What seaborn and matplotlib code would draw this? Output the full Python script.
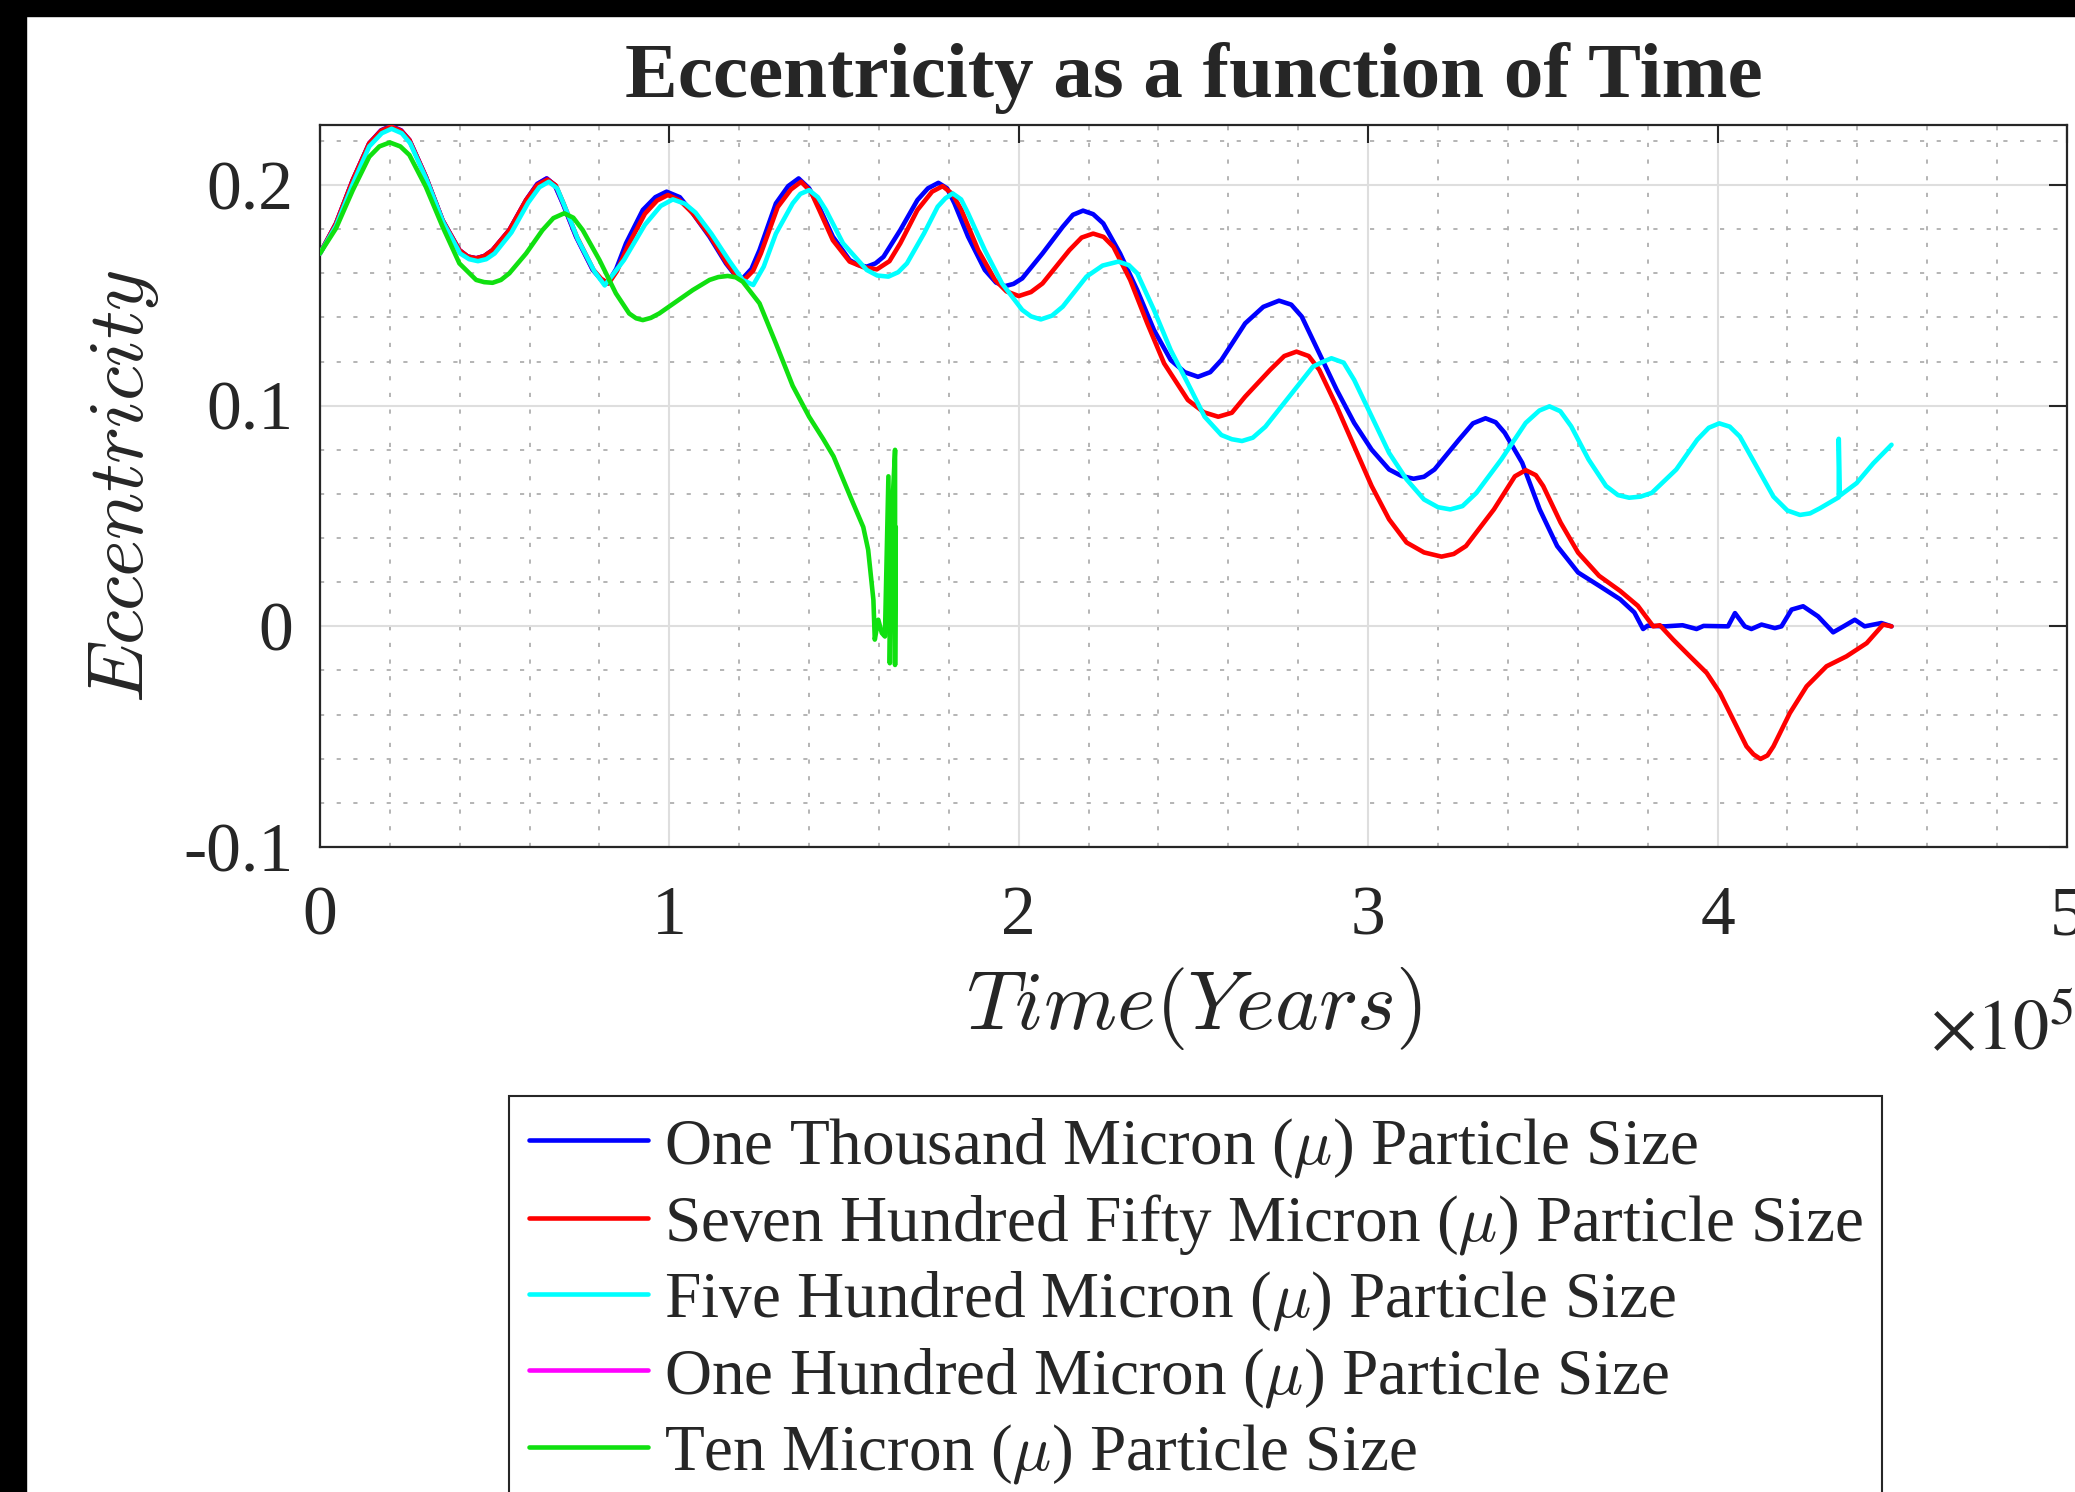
import numpy as np
import pandas as pd
import matplotlib
matplotlib.use("Agg")
import matplotlib.pyplot as plt
import seaborn as sns
from matplotlib.ticker import MultipleLocator, FuncFormatter
from matplotlib.patches import Rectangle

# Time in units of 1e5 years, eccentricity

# One Thousand Micron
t_1000 = [0, 0.046, 0.094, 0.141, 0.175, 0.203, 0.232, 0.256, 0.303, 0.351, 0.399, 0.423, 0.447, 0.470, 0.494,
          0.542, 0.590, 0.622, 0.649, 0.672, 0.695, 0.733, 0.781, 0.803, 0.823, 0.848, 0.876, 0.924, 0.96, 0.992,
          1.03, 1.067, 1.115, 1.162, 1.185, 1.21, 1.235, 1.258, 1.305, 1.34, 1.370, 1.40, 1.429, 1.468, 1.516,
          1.54, 1.565, 1.59, 1.613, 1.661, 1.71, 1.74, 1.77, 1.795, 1.816, 1.855, 1.903, 1.935, 1.961, 1.985,
          2.01, 2.068, 2.126, 2.155, 2.184, 2.213, 2.242, 2.29, 2.339, 2.387, 2.435, 2.475, 2.513, 2.548, 2.58,
          2.648, 2.70, 2.745, 2.78, 2.81, 2.86, 2.91, 2.96, 3.01, 3.06, 3.095, 3.13, 3.16, 3.19, 3.26, 3.30,
          3.336, 3.365, 3.391, 3.441, 3.491, 3.541, 3.601, 3.661, 3.721, 3.762, 3.787, 3.80, 3.85, 3.90, 3.94,
          3.96, 4.03, 4.05, 4.078, 4.097, 4.126, 4.164, 4.183, 4.212, 4.245, 4.288, 4.331, 4.364, 4.393, 4.421,
          4.469, 4.498]
e_1000 = [0.169, 0.1826, 0.2023, 0.2189, 0.2248, 0.2267, 0.2248, 0.2204, 0.2038, 0.184, 0.1705, 0.1676, 0.1668, 0.1678, 0.1705,
          0.1796, 0.1932, 0.2005, 0.203, 0.2, 0.1917, 0.1766, 0.1615, 0.1575, 0.1554, 0.162, 0.1736, 0.1887, 0.1945, 0.197,
          0.1945, 0.1872, 0.1766, 0.1645, 0.1598, 0.1577, 0.162, 0.1705, 0.1917, 0.1995, 0.203, 0.1985, 0.190, 0.1766, 0.166,
          0.1638, 0.163, 0.1645, 0.1675, 0.1796, 0.1932, 0.1985, 0.201, 0.1985, 0.1917, 0.1766, 0.1615, 0.1558, 0.1542, 0.1552,
          0.1577, 0.169, 0.1811, 0.1865, 0.1884, 0.1868, 0.1826, 0.169, 0.1524, 0.1343, 0.1207, 0.1152, 0.1131, 0.1152, 0.1207,
          0.1373, 0.1448, 0.1476, 0.1458, 0.1404, 0.1238, 0.1072, 0.0922, 0.0801, 0.0711, 0.0682, 0.0669, 0.0678, 0.0711, 0.0846, 0.092,
          0.0943, 0.0925, 0.0877, 0.0741, 0.053, 0.0364, 0.0244, 0.0184, 0.0123, 0.0063, -0.0012, 0.0003, 0.0, 0.0005, -0.0012,
          0.0002, 0.0, 0.006, 0.0, -0.0012, 0.0008, -0.0008, 0.0, 0.0076, 0.0091, 0.0045, -0.0027, 0.0003, 0.003, 0.0,
          0.0015, 0.0]

# Seven Hundred Fifty Micron
t_750 = [0, 0.046, 0.094, 0.141, 0.175, 0.203, 0.232, 0.256, 0.303, 0.351, 0.399, 0.423, 0.447, 0.470, 0.494,
         0.542, 0.590, 0.622, 0.651, 0.675, 0.697, 0.735, 0.783, 0.805, 0.826, 0.85, 0.880, 0.930, 0.965, 0.996,
         1.03, 1.067, 1.118, 1.165, 1.19, 1.215, 1.24, 1.262, 1.310, 1.348, 1.377, 1.405, 1.429, 1.468, 1.516,
         1.555, 1.594, 1.63, 1.661, 1.71, 1.752, 1.782, 1.81, 1.836, 1.884, 1.932, 1.965, 2.0, 2.035, 2.068,
         2.145, 2.18, 2.213, 2.243, 2.271, 2.319, 2.368, 2.416, 2.484, 2.53, 2.571, 2.61, 2.648, 2.72, 2.76,
         2.795, 2.83, 2.86, 2.91, 2.96, 3.01, 3.06, 3.11, 3.16, 3.21, 3.245, 3.28, 3.36, 3.42, 3.451, 3.48,
         3.501, 3.551, 3.601, 3.661, 3.721, 3.772, 3.816, 3.835, 3.873, 3.921, 3.969, 4.007, 4.045, 4.083,
         4.103, 4.123, 4.143, 4.16, 4.207, 4.255, 4.312, 4.369, 4.427, 4.474, 4.498]
e_750 = [0.169, 0.1826, 0.2023, 0.2189, 0.2246, 0.2265, 0.2246, 0.2204, 0.2038, 0.184, 0.1705, 0.1676, 0.1668, 0.1678, 0.1705,
         0.1796, 0.1932, 0.2, 0.2025, 0.1998, 0.1917, 0.1766, 0.1615, 0.1575, 0.1554, 0.161, 0.172, 0.187, 0.193, 0.1955,
         0.193, 0.1872, 0.1766, 0.1645, 0.1592, 0.1572, 0.1612, 0.169, 0.190, 0.198, 0.2015, 0.197, 0.1887, 0.175, 0.1653,
         0.1628, 0.1618, 0.1655, 0.1736, 0.1887, 0.197, 0.1995, 0.196, 0.1887, 0.1705, 0.157, 0.1518, 0.1497, 0.1515, 0.1554,
         0.1705, 0.1762, 0.178, 0.1765, 0.172, 0.157, 0.1373, 0.1192, 0.1026, 0.097, 0.095, 0.0968, 0.1041, 0.1163, 0.1225,
         0.1245, 0.1225, 0.1163, 0.0997, 0.0816, 0.0636, 0.0485, 0.038, 0.0335, 0.0316, 0.0328, 0.0364, 0.053, 0.068, 0.0708, 0.0685,
         0.0636, 0.047, 0.0334, 0.0229, 0.0161, 0.0093, 0.0, 0.0005, -0.006, -0.0136, -0.0211, -0.0302, -0.0423, -0.0544,
         -0.058, -0.0601, -0.0585, -0.0544, -0.0393, -0.0272, -0.0181, -0.0136, -0.0076, 0.0008, 0.0]

# Five Hundred Micron
t_500 = [0, 0.046, 0.094, 0.141, 0.177, 0.205, 0.234, 0.258, 0.305, 0.353, 0.401, 0.427, 0.452, 0.476, 0.50,
         0.548, 0.596, 0.628, 0.655, 0.679, 0.700, 0.738, 0.785, 0.815, 0.870, 0.930, 0.975, 1.01, 1.045, 1.075,
         1.12, 1.17, 1.21, 1.24, 1.27, 1.305, 1.353, 1.375, 1.40, 1.425, 1.448, 1.497, 1.565, 1.595, 1.627,
         1.655, 1.68, 1.729, 1.768, 1.79, 1.811, 1.835, 1.855, 1.903, 1.952, 2.01, 2.035, 2.063, 2.095, 2.126,
         2.194, 2.24, 2.285, 2.315, 2.339, 2.387, 2.435, 2.484, 2.532, 2.58, 2.61, 2.639, 2.67, 2.706, 2.774,
         2.842, 2.865, 2.895, 2.93, 2.96, 3.01, 3.06, 3.11, 3.16, 3.20, 3.235, 3.27, 3.31, 3.381, 3.451, 3.49,
         3.519, 3.55, 3.581, 3.631, 3.681, 3.715, 3.747, 3.78, 3.812, 3.882, 3.942, 3.975, 4.005, 4.035, 4.064,
         4.112, 4.16, 4.20, 4.236, 4.265, 4.293, 4.347, 4.347, 4.350, 4.398, 4.446, 4.498]
e_500 = [0.169, 0.1815, 0.2005, 0.2175, 0.2235, 0.2255, 0.2235, 0.219, 0.2025, 0.183, 0.169, 0.1664, 0.1655, 0.1664, 0.169,
         0.1785, 0.192, 0.199, 0.2015, 0.1985, 0.1905, 0.1755, 0.161, 0.1545, 0.166, 0.182, 0.1905, 0.1935, 0.1915, 0.1875,
         0.178, 0.166, 0.157, 0.1547, 0.163, 0.178, 0.1917, 0.196, 0.1977, 0.1945, 0.1887, 0.1736, 0.1615, 0.159, 0.1585,
         0.1605, 0.1645, 0.1781, 0.1902, 0.194, 0.1962, 0.1935, 0.1872, 0.1705, 0.1554, 0.1434, 0.1405, 0.1391, 0.1408, 0.1449,
         0.1585, 0.1635, 0.1653, 0.1637, 0.16, 0.1434, 0.1252, 0.1101, 0.095, 0.0867, 0.0848, 0.084, 0.0855, 0.0905, 0.1041,
         0.1177, 0.1195, 0.1215, 0.1195, 0.1117, 0.0952, 0.0786, 0.0666, 0.0575, 0.054, 0.053, 0.0545, 0.0605, 0.0756, 0.0922, 0.0978,
         0.0997, 0.0975, 0.0907, 0.0756, 0.0636, 0.0595, 0.0583, 0.0588, 0.0605, 0.0711, 0.0846, 0.09, 0.092, 0.0905, 0.086,
         0.0724, 0.0588, 0.0525, 0.0505, 0.0512, 0.0535, 0.0585, 0.085, 0.0592, 0.0649, 0.0739, 0.0823]

# One Hundred Micron (hidden under the other curves)
t_100 = [0, 0.046, 0.094, 0.141, 0.175, 0.203, 0.232, 0.256, 0.303, 0.351, 0.399, 0.423, 0.447, 0.470, 0.494,
         0.542, 0.590, 0.622, 0.649, 0.672, 0.695, 0.733, 0.781]
e_100 = [0.169, 0.1826, 0.2023, 0.2189, 0.2248, 0.2267, 0.2248, 0.2204, 0.2038, 0.184, 0.1705, 0.1676, 0.1668, 0.1678, 0.1705,
         0.1796, 0.1932, 0.2005, 0.203, 0.2, 0.1917, 0.1766, 0.1615]

# Ten Micron
t_10 = [0, 0.046, 0.094, 0.141, 0.17, 0.200, 0.23, 0.256, 0.303, 0.351, 0.399, 0.447, 0.47, 0.494, 0.518,
        0.542, 0.590, 0.637, 0.668, 0.699, 0.725, 0.752, 0.80, 0.847, 0.885, 0.905, 0.924, 0.947, 0.971, 1.019,
        1.067, 1.115, 1.14, 1.167, 1.19, 1.21, 1.258, 1.305, 1.353, 1.40, 1.44, 1.47, 1.52, 1.555, 1.569,
        1.584, 1.588, 1.598, 1.608, 1.617, 1.627, 1.631, 1.640, 1.646, 1.646, 1.648]
e_10 = [0.169, 0.1804, 0.1977, 0.2128, 0.2175, 0.2193, 0.2175, 0.2136, 0.1992, 0.1811, 0.1645, 0.157, 0.156, 0.1557, 0.157,
        0.16, 0.169, 0.1796, 0.185, 0.1872, 0.1852, 0.1796, 0.166, 0.1509, 0.1418, 0.1396, 0.1388, 0.1398, 0.1418, 0.1471,
        0.1524, 0.157, 0.1583, 0.1588, 0.1582, 0.1562, 0.1464, 0.1282, 0.109, 0.095, 0.085, 0.077, 0.058, 0.045, 0.0347,
        0.012, -0.006, 0.003, -0.003, -0.0046, 0.068, -0.0167, 0.06, 0.080, -0.0175, 0.045]

labels = ["One Thousand Micron ($\\mu$) Particle Size",
          "Seven Hundred Fifty Micron ($\\mu$) Particle Size",
          "Five Hundred Micron ($\\mu$) Particle Size",
          "One Hundred Micron ($\\mu$) Particle Size",
          "Ten Micron ($\\mu$) Particle Size"]
colors = ["#0000ff", "#ff0000", "#00ffff", "#ff00ff", "#10e010"]

sns.set_theme(style="white")
plt.rcParams["font.family"] = ["Liberation Serif", "DejaVu Serif"]
plt.rcParams["mathtext.fontset"] = "cm"

fig = plt.figure(figsize=(20.75, 14.92), dpi=100)
ax = fig.add_axes([0.1542, 0.4323, 0.8419, 0.4839])

series = [(t_1000, e_1000), (t_750, e_750), (t_500, e_500), (t_100, e_100), (t_10, e_10)]
zorders = [3, 4, 5, 2, 6]
for (t, e), lab, col, z in zip(series, labels, colors, zorders):
    sns.lineplot(x=t, y=e, ax=ax, color=col, lw=3.3, label=lab, sort=False, estimator=None,
                 zorder=z, solid_joinstyle="round")

ax.set_xlim(0, 5)
ax.set_ylim(-0.1, 0.2272)
ax.xaxis.set_major_locator(MultipleLocator(1))
ax.xaxis.set_minor_locator(MultipleLocator(0.2))
ax.yaxis.set_major_locator(MultipleLocator(0.1))
ax.yaxis.set_minor_locator(MultipleLocator(0.02))
ax.xaxis.set_major_formatter(FuncFormatter(lambda v, p: f"{v:g}"))
ax.yaxis.set_major_formatter(FuncFormatter(lambda v, p: f"{v:g}"))

ax.grid(which="major", color="#dedede", lw=1.5)
ax.grid(which="minor", color="#a8a8a8", lw=1.2, ls=(0, (2.5, 7.5)))
ax.set_axisbelow(True)

ax.tick_params(which="major", direction="in", length=13, width=1.5, colors="#262626",
               labelsize=50, pad=19, top=True, right=True)
ax.tick_params(axis="x", which="major", pad=28)
ax.tick_params(which="minor", length=0)
for s in ax.spines.values():
    s.set_color("#262626")
    s.set_linewidth(1.6)

ax.set_title("Eccentricity as a function of Time", fontsize=57, fontweight="bold", pad=20)
ax.set_xlabel("$Time(Years)$", fontsize=60)
ax.set_ylabel("$Eccentricity$", fontsize=57)
ax.xaxis.set_label_coords(0.5, -0.163)
ax.yaxis.set_label_coords(-0.091, 0.5)

fig.text(2074 / 2075, 1 - 1050 / 1492, "$\\times10^{5}$", fontsize=52, ha="right", va="baseline",
         family="Liberation Serif", math_fontfamily="stix")

handles, labs = ax.get_legend_handles_labels()
leg = ax.legend(handles, labs, loc="upper left", bbox_to_anchor=(509 / 2075, 1 - 1096 / 1492),
                bbox_transform=fig.transFigure, fontsize=47, frameon=True, fancybox=False,
                framealpha=1, edgecolor="#262626", handlelength=1.83, handletextpad=0.245,
                borderpad=0.3, labelspacing=0.19, borderaxespad=0)
leg.get_frame().set_linewidth(1.5)

# black border left and top like the source screenshot
fig.patches.append(Rectangle((0, 1 - 16 / 1492), 1, 16 / 1492, transform=fig.transFigure, color="black", zorder=10))
fig.patches.append(Rectangle((0, 0), 26 / 2075, 1, transform=fig.transFigure, color="black", zorder=10))

fig.savefig("out.png", dpi=100)
